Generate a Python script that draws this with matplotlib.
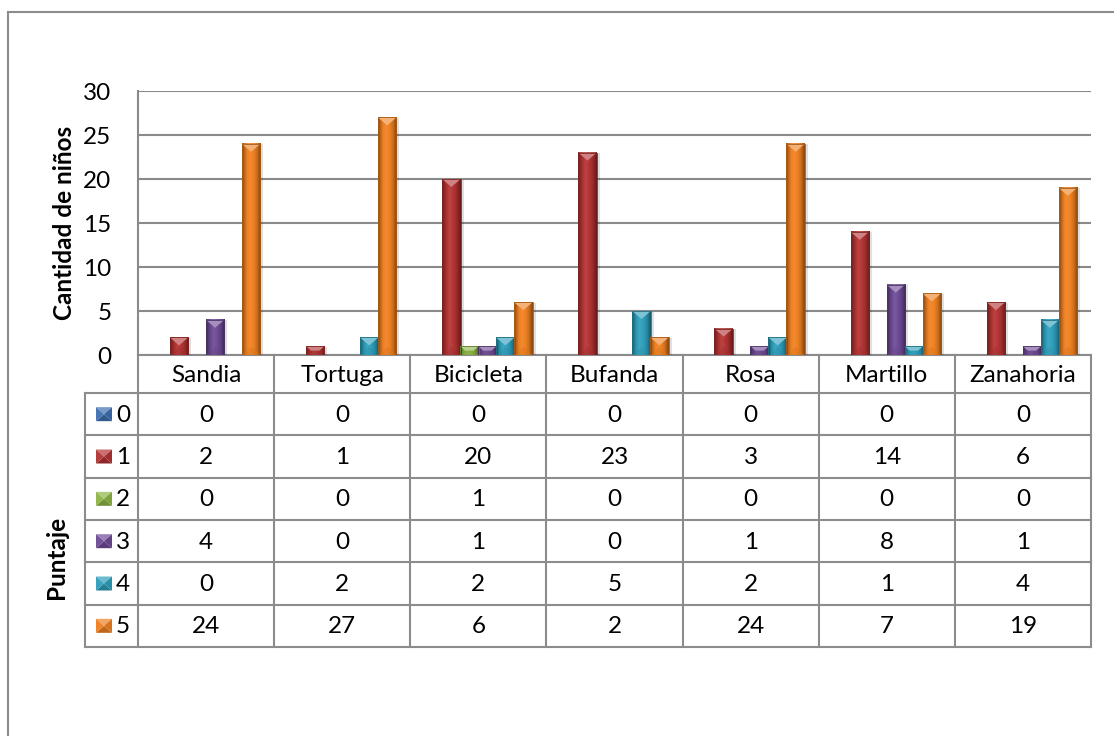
import numpy as np
import matplotlib
matplotlib.use("Agg")
import matplotlib.pyplot as plt
from matplotlib.patches import Polygon, Rectangle
from matplotlib.colors import to_rgb

plt.rcParams['font.family'] = ['Lato', 'DejaVu Sans']

categories = ["Sandia", "Tortuga", "Bicicleta", "Bufanda", "Rosa", "Martillo", "Zanahoria"]
series_names = ["0", "1", "2", "3", "4", "5"]
score_0 = [0, 0, 0, 0, 0, 0, 0]
score_1 = [2, 1, 20, 23, 3, 14, 6]
score_2 = [0, 0, 1, 0, 0, 0, 0]
score_3 = [4, 0, 1, 0, 1, 8, 1]
score_4 = [0, 2, 2, 5, 2, 1, 4]
score_5 = [24, 27, 6, 2, 24, 7, 19]
series_values = [score_0, score_1, score_2, score_3, score_4, score_5]
y_ticks = [0, 5, 10, 15, 20, 25, 30]

colors = ["#3D6FB0", "#B33333", "#8DB443", "#6E4A96", "#2E9EBB", "#EE8020"]

W, H = 1114, 736
FS = 17.5
fig = plt.figure(figsize=(W / 100, H / 100), dpi=100)

# pixel-space overlay for the frame, table and titles
ov = fig.add_axes([0, 0, 1, 1])
ov.set_xlim(0, W)
ov.set_ylim(H, 0)
ov.axis("off")
ov.set_zorder(0)

left, right, top, bottom = 138, 1091, 91, 355
ax = fig.add_axes([left / W, 1 - bottom / H, (right - left) / W, (bottom - top) / H])
ax.set_zorder(2)
ax.patch.set_alpha(0)
ncat = len(categories)
ax.set_xlim(0, ncat)
ax.set_ylim(0, 30)
ax.set_yticks(y_ticks)
ax.set_xticks([])
ax.tick_params(axis="y", length=0, pad=19, labelsize=FS)
for s in ["top", "right", "bottom"]:
    ax.spines[s].set_visible(False)
ax.spines["left"].set_color("#8a8a8a")
ax.spines["left"].set_linewidth(1.5)
ax.yaxis.grid(True, color="#8a8a8a", linewidth=1.5)
ax.set_axisbelow(True)


def shade(c, f):
    r = np.array(to_rgb(c))
    if f >= 0:
        return tuple(r + (1 - r) * f)
    return tuple(r * (1 + f))


col_px = (right - left) / ncat
slot = 18 / col_px
bw = 18.5 / col_px
ypx = 30 / (bottom - top)
bevel = 8 * ypx
grad = np.array([-0.35, -0.15, 0.0, 0.08, 0.05, 0.0, -0.08, -0.2, -0.4])

nser = len(series_values)
for k, vals in enumerate(series_values):
    base = colors[k]
    img = np.array([[shade(base, g) for g in grad]])
    for i, v in enumerate(vals):
        if v <= 0:
            continue
        xc = i + 0.5 + (k - (nser - 1) / 2) * slot
        x0, x1 = xc - bw / 2, xc + bw / 2
        # soft shadow on the right
        ax.add_patch(Rectangle((x0 + 3 / col_px, 0), bw, v - 0.5 * ypx,
                               color="black", alpha=0.12, lw=0, zorder=2))
        ax.imshow(img, extent=[x0, x1, 0, v], aspect="auto",
                  interpolation="bilinear", zorder=3)
        d = min(bevel, v / 2)
        frac = d / bevel
        inset = (bw / 2) * frac
        if frac >= 1:
            top_poly = [(x0, v), (x1, v), (xc, v - d)]
            bot_poly = [(x0, 0), (x1, 0), (xc, d)]
        else:
            top_poly = [(x0, v), (x1, v), (x1 - inset, v - d), (x0 + inset, v - d)]
            bot_poly = [(x0, 0), (x1, 0), (x1 - inset, d), (x0 + inset, d)]
        ax.add_patch(Polygon(bot_poly, closed=True, color=shade(base, -0.1),
                             lw=0, alpha=0.4, zorder=4))
        ax.add_patch(Polygon(top_poly, closed=True, color=shade(base, 0.38),
                             lw=0, zorder=4))
        ax.add_patch(Rectangle((x0, 0), bw, v, fill=False,
                               ec=shade(base, -0.3), lw=0.6, zorder=5))

ax.set_xlim(0, ncat)
ax.set_ylim(0, 30)

# outer frame
lc = "#8c8c8c"
ov.plot([8, 8], [H + 5, 12], color=lc, lw=1.5)
ov.plot([8, W + 5], [12, 12], color=lc, lw=1.5)

# data table
row_top = 393
row_h = (647 - row_top) / nser
tab_left = 85
xs = [left + i * col_px for i in range(ncat + 1)]
ov.plot([left, right], [bottom, bottom], color=lc, lw=1.5)
for x in xs:
    ov.plot([x, x], [bottom, 647], color=lc, lw=1.5)
ov.plot([tab_left, tab_left], [row_top, 647], color=lc, lw=1.5)
for r in range(nser + 1):
    y = row_top + r * row_h
    ov.plot([tab_left, right], [y, y], color=lc, lw=1.5)

for i, name in enumerate(categories):
    ov.text(left + (i + 0.5) * col_px, (bottom + row_top) / 2 + 1, name,
            ha="center", va="center", fontsize=FS)

for k, vals in enumerate(series_values):
    yc = row_top + (k + 0.5) * row_h
    for i, v in enumerate(vals):
        ov.text(left + (i + 0.5) * col_px, yc + 1, str(v),
                ha="center", va="center", fontsize=FS)
    # legend key with pyramid bevel
    base = colors[k]
    kx0, kx1, ky0, ky1 = 96, 112, yc - 7, yc + 7
    kcx, kcy = (kx0 + kx1) / 2, yc
    ov.add_patch(Polygon([(kx0, ky0), (kx1, ky0), (kcx, kcy)], color=shade(base, 0.3), lw=0))
    ov.add_patch(Polygon([(kx0, ky1), (kx1, ky1), (kcx, kcy)], color=shade(base, -0.2), lw=0))
    ov.add_patch(Polygon([(kx0, ky0), (kx0, ky1), (kcx, kcy)], color=shade(base, 0.05), lw=0))
    ov.add_patch(Polygon([(kx1, ky0), (kx1, ky1), (kcx, kcy)], color=shade(base, -0.1), lw=0))
    ov.text(116, yc + 1, series_names[k], ha="left", va="center", fontsize=FS)

ov.text(64, (top + bottom) / 2, "Cantidad de niños", rotation=90,
        ha="center", va="center", fontsize=FS, fontweight="bold")
ov.text(56, 557, "Puntaje", rotation=90, ha="center", va="center",
        fontsize=FS, fontweight="bold")

fig.savefig("out.png", dpi=100)
